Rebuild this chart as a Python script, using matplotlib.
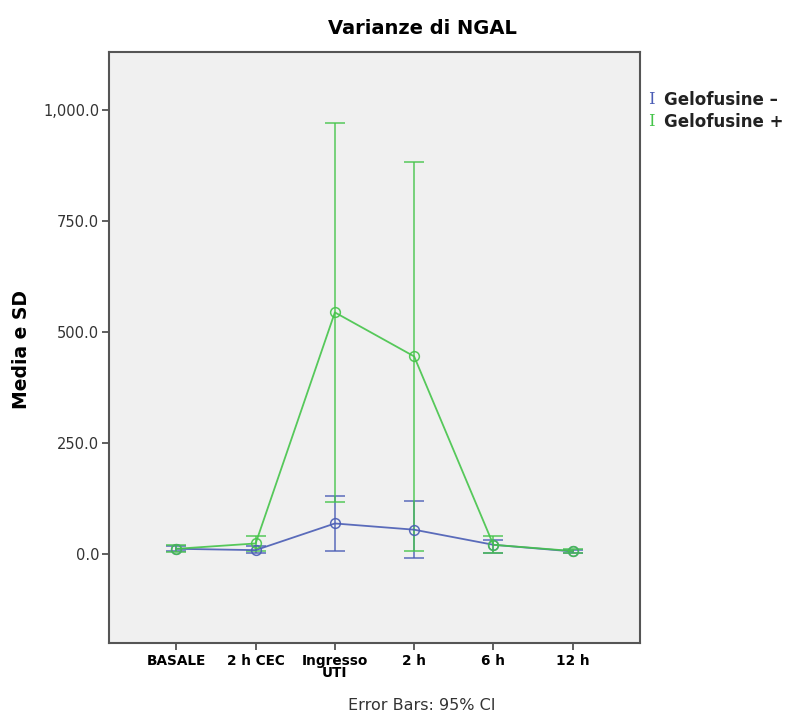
import matplotlib
matplotlib.use("Agg")
import matplotlib.pyplot as plt
from matplotlib.ticker import FuncFormatter

timepoints = ["BASALE", "2 h CEC", "Ingresso\nUTI", "2 h", "6 h", "12 h"]

# Gelofusine - (blue)
neg_mean = [12, 9, 69, 55, 21, 6]
neg_low = [6, 3, 7, -8, 3, 2]
neg_high = [19, 18, 130, 120, 32, 10]

# Gelofusine + (green)
pos_mean = [12, 24, 544, 445, 21, 7]
pos_low = [5, 6, 118, 7, 3, 3]
pos_high = [21, 40, 971, 882, 41, 12]

blue = "#4a5db5"
green = "#45c44a"

fig = plt.figure(figsize=(7.89, 7.13), dpi=100)
W, H = 789, 713
ax = fig.add_axes([109 / W, 1 - 643 / H, (640 - 109) / W, (643 - 52) / H])
ax.set_facecolor("#f0f0f0")

x = list(range(len(timepoints)))


def draw(mean, low, high, color):
    err = [[m - l for m, l in zip(mean, low)], [h - m for m, h in zip(mean, high)]]
    ax.errorbar(x, mean, yerr=err, color=color, lw=1.3, elinewidth=1.1,
                capsize=7.3, capthick=1.2, marker="o", ms=7, mfc="none",
                mew=1.1, alpha=0.9)


draw(neg_mean, neg_low, neg_high, blue)
draw(pos_mean, pos_low, pos_high, green)

ax.set_xlim(-0.85, 5.85)
ax.set_ylim(-200, 1130)
ax.set_xticks(x)
ax.set_xticklabels(timepoints, fontsize=9.8, fontweight="bold", linespacing=0.85)
ax.set_yticks([0, 250, 500, 750, 1000])
ax.yaxis.set_major_formatter(FuncFormatter(lambda v, p: f"{v:,.1f}"))
ax.tick_params(axis="y", labelsize=10.5, labelcolor="#333333", length=5, width=1.2,
               color="#444444", pad=2)
ax.tick_params(axis="x", length=5, width=1.2, color="#444444", pad=3)
for s in ax.spines.values():
    s.set_color("#555555")
    s.set_linewidth(1.5)

fig.text(422 / W, 1 - 28 / H, "Varianze di NGAL", ha="center", va="center",
         fontsize=14, fontweight="bold")
fig.text(22 / W, 1 - 350 / H, "Media e SD", ha="center", va="center",
         rotation=90, fontsize=13.5, fontweight="bold")
fig.text(422 / W, 1 - 705 / H, "Error Bars: 95% CI", ha="center", va="center",
         fontsize=11.5, color="#333333")

# legend
fig.text(651 / W, 1 - 100 / H, "I", ha="center", va="center", color=blue,
         fontsize=12, family="DejaVu Serif")
fig.text(664 / W, 1 - 100 / H, "Gelofusine \u2013", ha="left", va="center",
         fontsize=12, fontweight="bold", color="#222222")
fig.text(651 / W, 1 - 122 / H, "I", ha="center", va="center", color=green,
         fontsize=12, family="DejaVu Serif")
fig.text(664 / W, 1 - 122 / H, "Gelofusine +", ha="left", va="center",
         fontsize=12, fontweight="bold", color="#222222")

fig.savefig("out.png", dpi=100)
